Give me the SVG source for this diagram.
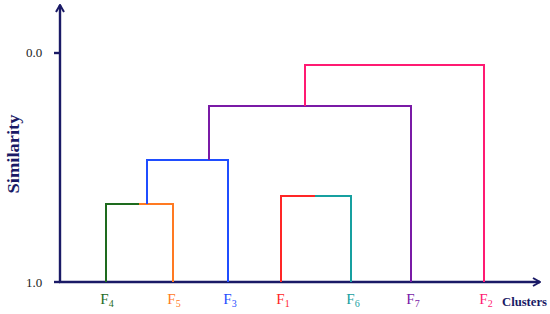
<svg xmlns="http://www.w3.org/2000/svg" width="550" height="314" viewBox="0 0 550 314">
<defs>
<marker id="arr" viewBox="0 0 10 10" refX="9" refY="5" markerWidth="10" markerHeight="10" markerUnits="userSpaceOnUse" orient="auto">
<path d="M2,1 L9,5 L2,9" fill="none" stroke="#1a1a66" stroke-width="2" stroke-linejoin="miter"/>
</marker>
<style>
.ax{stroke:#1a1a66;stroke-width:2.4;fill:none}
.ln{fill:none;stroke-width:2}
.lbl{font-family:"Liberation Serif","DejaVu Serif",serif;font-size:15px;text-anchor:middle}
.sub{font-size:10px}
.tk{font-family:"Liberation Serif","DejaVu Serif",serif;font-size:13px;fill:#222}
.ttl{font-family:"Liberation Serif","DejaVu Serif",serif;font-weight:bold;fill:#1a1a66}
</style>
</defs>
<rect width="550" height="314" fill="#fff"/>
<g id="axes">
<line class="ax" x1="60" y1="283" x2="60" y2="5" marker-end="url(#arr)"/>
<line class="ax" x1="59" y1="282" x2="540" y2="282" marker-end="url(#arr)"/>
<line class="ax" x1="54" y1="53" x2="60" y2="53"/>
<line class="ax" x1="54" y1="282" x2="60" y2="282"/>
<text class="tk" x="26" y="57">0.0</text>
<text class="tk" x="26" y="287">1.0</text>
<text class="ttl" font-size="17" transform="translate(19,154) rotate(-90)" text-anchor="middle" textLength="79" lengthAdjust="spacingAndGlyphs">Similarity</text>
<text class="ttl" font-size="13" x="502" y="306" textLength="45" lengthAdjust="spacingAndGlyphs">Clusters</text>
</g>
<g id="connectors">
<polyline class="ln" stroke="#1e6b1e" points="106,282 106,204 139,204"/>
<polyline class="ln" stroke="#ff7a22" points="139,204 173,204 173,282"/>
<polyline class="ln" stroke="#1f4dff" points="147,204 147,160 228,160 228,282"/>
<polyline class="ln" stroke="#ff2626" points="281,282 281,196 315,196"/>
<polyline class="ln" stroke="#17a0a0" points="315,196 351,196 351,282"/>
<polyline class="ln" stroke="#7a1aa6" points="209,160 209,106 411,106 411,282"/>
<polyline class="ln" stroke="#ff1a72" points="305,106 305,65 484,65 484,282"/>
</g>
<g id="F4"><text class="lbl" x="107" y="304" fill="#1e6b1e">F<tspan class="sub" dy="3">4</tspan></text></g>
<g id="F5"><text class="lbl" x="174" y="304" fill="#ff7a22">F<tspan class="sub" dy="3">5</tspan></text></g>
<g id="F3"><text class="lbl" x="230" y="304" fill="#1f4dff">F<tspan class="sub" dy="3">3</tspan></text></g>
<g id="F1"><text class="lbl" x="283" y="304" fill="#ff2626">F<tspan class="sub" dy="3">1</tspan></text></g>
<g id="F6"><text class="lbl" x="353" y="304" fill="#17a0a0">F<tspan class="sub" dy="3">6</tspan></text></g>
<g id="F7"><text class="lbl" x="413" y="304" fill="#7a1aa6">F<tspan class="sub" dy="3">7</tspan></text></g>
<g id="F2"><text class="lbl" x="486" y="304" fill="#ff1a72">F<tspan class="sub" dy="3">2</tspan></text></g>
</svg>
